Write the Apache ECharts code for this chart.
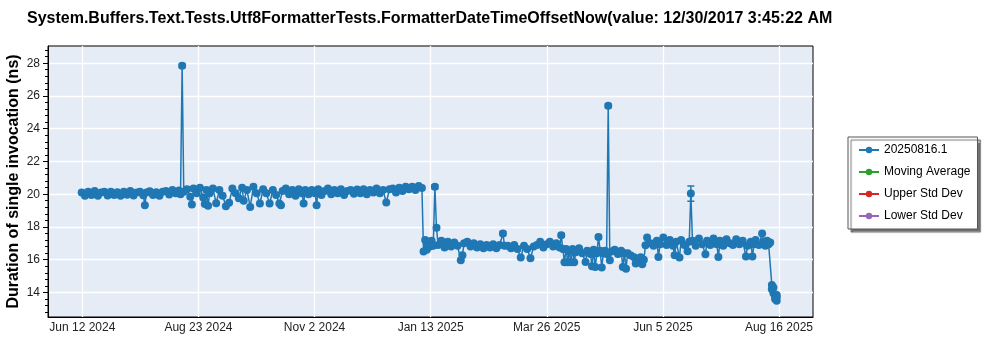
<!DOCTYPE html>
<html><head><meta charset="utf-8">
<script src="https://cdn.jsdelivr.net/npm/echarts@6/dist/echarts.min.js"></script>
<style>html,body{margin:0;padding:0;background:#fff}#c{width:1000px;height:350px}</style>
</head><body><div id="c"></div>
<script>
const titleText = 'System.Buffers.Text.Tests.Utf8FormatterTests.FormatterDateTimeOffsetNow(value: 12/30/2017 3:45:22 AM';
const yAxisTitle = 'Duration of single invocation (ns)';
const seriesNames = ['20250816.1', 'Moving Average', 'Upper Std Dev', 'Lower Std Dev'];

const dates = [
'2024-06-12','2024-06-14','2024-06-16','2024-06-18','2024-06-20','2024-06-22','2024-06-24','2024-06-26','2024-06-28','2024-06-30',
'2024-07-02','2024-07-04','2024-07-06','2024-07-08','2024-07-10','2024-07-12','2024-07-14','2024-07-16','2024-07-18','2024-07-20','2024-07-21','2024-07-22','2024-07-24','2024-07-26','2024-07-28','2024-07-30',
'2024-08-01','2024-08-03','2024-08-05','2024-08-07','2024-08-09','2024-08-11','2024-08-12','2024-08-13','2024-08-14','2024-08-16','2024-08-18','2024-08-19','2024-08-20','2024-08-22','2024-08-24','2024-08-26','2024-08-27','2024-08-28','2024-08-29','2024-08-30',
'2024-09-01','2024-09-03','2024-09-05','2024-09-07','2024-09-09','2024-09-11','2024-09-13','2024-09-15','2024-09-17','2024-09-19','2024-09-20','2024-09-22','2024-09-24','2024-09-26','2024-09-28','2024-09-30',
'2024-10-02','2024-10-04','2024-10-06','2024-10-08','2024-10-10','2024-10-12','2024-10-13','2024-10-14','2024-10-16','2024-10-18','2024-10-20','2024-10-22','2024-10-24','2024-10-26','2024-10-27','2024-10-28','2024-10-30',
'2024-11-01','2024-11-03','2024-11-04','2024-11-05','2024-11-07','2024-11-09','2024-11-11','2024-11-13','2024-11-15','2024-11-17','2024-11-19','2024-11-21','2024-11-23','2024-11-25','2024-11-27','2024-11-29',
'2024-12-01','2024-12-03','2024-12-05','2024-12-07','2024-12-09','2024-12-11','2024-12-13','2024-12-15','2024-12-17','2024-12-19','2024-12-21','2024-12-23','2024-12-25','2024-12-27','2024-12-29','2024-12-31',
'2025-01-02','2025-01-04','2025-01-06','2025-01-08',
'2025-01-09','2025-01-10','2025-01-11','2025-01-12','2025-01-13','2025-01-14','2025-01-15','2025-01-16','2025-01-17','2025-01-18','2025-01-20','2025-01-22','2025-01-24','2025-01-26','2025-01-28','2025-01-30',
'2025-02-01','2025-02-02','2025-02-03','2025-02-05','2025-02-07','2025-02-09','2025-02-11','2025-02-13','2025-02-15','2025-02-17','2025-02-19','2025-02-21','2025-02-23','2025-02-25','2025-02-27','2025-02-28',
'2025-03-02','2025-03-04','2025-03-06','2025-03-08','2025-03-10','2025-03-12','2025-03-14','2025-03-16','2025-03-18','2025-03-20','2025-03-22','2025-03-24','2025-03-26','2025-03-28','2025-03-30',
'2025-04-01','2025-04-03','2025-04-04','2025-04-05','2025-04-06','2025-04-07','2025-04-08','2025-04-09','2025-04-10','2025-04-11','2025-04-12','2025-04-13','2025-04-15','2025-04-17','2025-04-19','2025-04-20','2025-04-22','2025-04-23','2025-04-24','2025-04-25','2025-04-26','2025-04-27','2025-04-28','2025-04-29','2025-04-30',
'2025-05-01','2025-05-02','2025-05-03','2025-05-04','2025-05-05','2025-05-07','2025-05-09','2025-05-11','2025-05-12','2025-05-13','2025-05-14','2025-05-15','2025-05-17','2025-05-19','2025-05-20','2025-05-21','2025-05-23','2025-05-24','2025-05-25',
'2025-05-26','2025-05-27','2025-05-29','2025-05-31',
'2025-06-02','2025-06-03','2025-06-04','2025-06-06','2025-06-08','2025-06-10','2025-06-12','2025-06-13','2025-06-14','2025-06-16','2025-06-17','2025-06-19','2025-06-21','2025-06-22','2025-06-23','2025-06-24','2025-06-26','2025-06-28','2025-06-30',
'2025-07-02','2025-07-03','2025-07-05','2025-07-07','2025-07-09','2025-07-10','2025-07-11','2025-07-13','2025-07-15','2025-07-17','2025-07-19','2025-07-21','2025-07-23','2025-07-25','2025-07-27','2025-07-28','2025-07-30','2025-07-31',
'2025-08-01','2025-08-02','2025-08-04','2025-08-06','2025-08-07','2025-08-08','2025-08-09','2025-08-10','2025-08-11','2025-08-12','2025-08-12','2025-08-13','2025-08-13','2025-08-14','2025-08-14','2025-08-15','2025-08-15','2025-08-15'
];
const values = [
20.1,19.9,20.15,19.95,20.2,19.9,20.1,20.15,19.92,20.15,
19.95,20.12,19.9,20.15,19.97,20.2,19.92,20.1,20.15,19.93,19.33,20.1,20.18,19.95,20.12,19.9,
20.15,20.2,19.98,20.25,20.05,20.22,20.0,27.85,20.15,20.3,19.85,19.37,20.35,20.05,20.4,19.8,19.4,20.25,19.3,20.05,
20.35,19.45,20.25,19.9,19.27,19.47,20.35,20.05,19.75,20.4,19.6,20.25,19.22,20.45,20.05,19.43,
20.3,20.05,19.43,20.25,19.95,19.43,19.33,20.2,20.35,20.0,20.25,19.9,20.3,20.05,19.43,20.25,20.0,
20.25,20.05,19.33,20.3,19.95,20.2,20.35,20.0,20.25,20.05,20.3,19.95,20.2,20.25,20.02,20.28,
20.05,20.3,20.0,20.25,20.1,20.35,20.05,20.25,19.49,20.3,20.35,20.1,20.4,20.2,20.45,20.3,
20.45,20.25,20.5,20.38,
16.5,17.2,16.6,17.1,16.8,17.15,16.85,20.45,17.95,16.9,17.15,16.75,17.1,16.8,17.05,16.85,
15.96,16.27,17.0,17.1,16.8,17.0,16.75,16.95,16.7,16.9,16.75,16.95,16.7,16.9,17.6,16.85,
16.85,16.7,16.9,16.65,16.13,16.85,16.65,16.09,16.8,16.9,17.1,16.75,16.95,17.1,16.8,
17.0,16.75,17.49,16.65,15.85,16.65,15.85,16.5,15.85,16.65,15.85,16.45,16.7,16.4,15.86,16.55,16.35,15.6,16.6,15.55,16.4,17.39,16.55,15.52,16.4,
16.55,16.35,25.4,15.96,16.5,16.6,16.35,16.55,15.55,16.4,15.45,16.4,16.25,16.15,15.76,16.0,16.15,15.72,16.0,
16.88,17.35,17.0,16.85,
17.15,16.17,16.95,17.35,16.9,17.2,16.85,16.27,17.1,16.13,17.2,16.9,16.51,17.1,20.04,17.15,16.85,17.3,16.95,
16.33,17.15,16.9,17.3,16.95,16.17,17.15,16.85,17.25,17.0,16.9,17.25,16.95,17.15,16.2,16.85,17.1,16.2,
16.95,17.2,16.9,17.6,17.1,16.85,17.15,16.95,17.05,14.45,14.2,13.95,14.3,13.75,13.6,13.85,13.5,13.7
];

const errDates = ['2024-08-13','2025-01-16','2025-01-17','2025-02-27','2025-04-04','2025-04-27','2025-05-03','2025-06-23'];
const errLow  = [27.73, 20.33, 17.83, 17.48, 17.37, 17.27, 25.28, 19.57];
const errHigh = [27.97, 20.57, 18.07, 17.72, 17.61, 17.51, 25.52, 20.50];

const xTicks = ['2024-06-12 09:36','2024-08-23 01:36','2024-11-02 17:36','2025-01-13 09:36','2025-03-26 01:36','2025-06-05 17:36','2025-08-16 09:36'];
const xTickLabels = ['Jun 12 2024','Aug 23 2024','Nov 2 2024','Jan 13 2025','Mar 26 2025','Jun 5 2025','Aug 16 2025'];
const xMin = '2024-05-22 04:48';
const xMax = '2025-09-06 09:36';
const yTicks = [14, 16, 18, 20, 22, 24, 26, 28];
const yMinorTicks = [12.8,13.2,13.6,14.4,14.8,15.2,15.6,16.4,16.8,17.2,17.6,18.4,18.8,19.2,19.6,20.4,20.8,21.2,21.6,22.4,22.8,23.2,23.6,24.4,24.8,25.2,25.6,26.4,26.8,27.2,27.6,28.4,28.8];
const yMin = 12.5, yMax = 29.05;

const FONT = '"Segoe UI", "Liberation Sans", Arial, sans-serif';
const blue = '#1f77b4';
const P = s => +echarts.time.parse(s);
const tickTimes = xTicks.map(P);

const chart = echarts.init(document.getElementById('c'), null, {renderer: 'canvas'});
chart.setOption({
  animation: false,
  backgroundColor: '#ffffff',
  title: {
    text: titleText, left: 27, top: 11, padding: 0,
    textStyle: {fontFamily: FONT, fontSize: 16, fontWeight: 'bold', color: '#000'}
  },
  legend: {
    data: seriesNames, orient: 'vertical', left: 848, top: 137,
    backgroundColor: '#fff', borderColor: '#555', borderWidth: 1,
    padding: [7, 7, 7, 10], itemWidth: 20, itemHeight: 8, itemGap: 10,
    shadowColor: 'rgba(0,0,0,0.55)', shadowBlur: 1, shadowOffsetX: 3, shadowOffsetY: 3,
    textStyle: {fontFamily: FONT, fontSize: 12, color: '#000'}
  },
  grid: {
    left: 48, right: 187, top: 46, bottom: 33, show: true, outerBoundsMode: 'none',
    backgroundColor: '#e5ecf6', borderColor: '#000', borderWidth: 1
  },
  xAxis: {
    type: 'value', min: P(xMin), max: P(xMax),
    axisLine: {show: true, lineStyle: {color: '#000', width: 1}},
    axisTick: {show: false, customValues: tickTimes},
    axisLabel: {
      customValues: tickTimes, margin: 5, fontFamily: FONT, fontSize: 12, color: '#222',
      formatter: function (v) {
        let best = 0;
        for (let i = 1; i < tickTimes.length; i++) if (Math.abs(tickTimes[i] - v) < Math.abs(tickTimes[best] - v)) best = i;
        return xTickLabels[best];
      }
    },
    splitLine: {show: true, lineStyle: {color: '#ffffff', width: 1.3}}
  },
  yAxis: [{
    type: 'value', min: yMin, max: yMax,
    name: yAxisTitle, nameLocation: 'middle', nameGap: 26, nameMoveOverlap: false,
    nameTextStyle: {fontFamily: FONT, fontSize: 16, fontWeight: 'bold', color: '#000'},
    axisLine: {show: true, lineStyle: {color: '#000', width: 1}},
    axisTick: {show: true, customValues: yTicks, length: 5, lineStyle: {color: '#000'}},
    axisLabel: {customValues: yTicks, margin: 8, fontFamily: FONT, fontSize: 12, color: '#222'},
    splitLine: {show: true, lineStyle: {color: '#ffffff', width: 1.3}}
  }, {
    type: 'value', min: yMin, max: yMax, position: 'left',
    axisLine: {show: false},
    axisTick: {show: true, inside: false, customValues: yMinorTicks, length: 3, lineStyle: {color: '#000'}},
    axisLabel: {show: false},
    splitLine: {show: false}
  }],
  series: [{
    name: seriesNames[0], type: 'line',
    data: dates.map((d, i) => [P(d), values[i]]),
    showSymbol: true, showAllSymbol: true, symbol: 'circle', symbolSize: 8,
    itemStyle: {color: blue}, lineStyle: {color: blue, width: 1.5}, z: 3
  }, {
    name: seriesNames[1], type: 'line', data: [], symbol: 'circle',
    itemStyle: {color: '#2ca02c'}, lineStyle: {color: '#2ca02c', width: 1.5}
  }, {
    name: seriesNames[2], type: 'line', data: [], symbol: 'circle',
    itemStyle: {color: '#d62728'}, lineStyle: {color: '#d62728', width: 1.5}
  }, {
    name: seriesNames[3], type: 'line', data: [], symbol: 'circle',
    itemStyle: {color: '#9467bd'}, lineStyle: {color: '#9467bd', width: 1.5}
  }, {
    name: 'errors', type: 'custom', z: 4,
    data: errDates.map((d, i) => [P(d), errLow[i], errHigh[i]]),
    renderItem: function (params, api) {
      const p1 = api.coord([api.value(0), api.value(1)]);
      const p2 = api.coord([api.value(0), api.value(2)]);
      const x = p1[0], w = 3.5;
      const st = {stroke: blue, lineWidth: 1.5};
      return {type: 'group', children: [
        {type: 'line', shape: {x1: x, y1: p1[1], x2: x, y2: p2[1]}, style: st},
        {type: 'line', shape: {x1: x - w, y1: p1[1], x2: x + w, y2: p1[1]}, style: st},
        {type: 'line', shape: {x1: x - w, y1: p2[1], x2: x + w, y2: p2[1]}, style: st}
      ]};
    }
  }]
});
</script>
</body></html>
